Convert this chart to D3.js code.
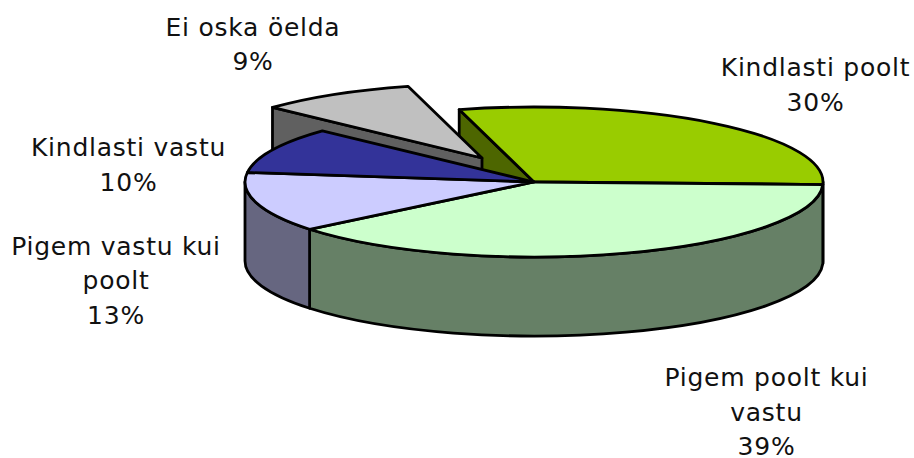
<!DOCTYPE html>
<html><head><meta charset="utf-8">
<script src="https://cdn.jsdelivr.net/npm/d3@7"></script>
<style>html,body{margin:0;padding:0;background:#fff}svg{display:block}</style>
</head><body><svg id="c" width="914" height="458"></svg>
<script>
const categories = ["Kindlasti poolt","Pigem poolt kui vastu","Pigem vastu kui poolt","Kindlasti vastu","Ei oska öelda"];
const values = [30,39,13,10,9];
const labelLines = [["Kindlasti poolt"],["Pigem poolt kui","vastu"],["Pigem vastu kui","poolt"],["Kindlasti vastu"],["Ei oska öelda"]];
const topColors = ["#99CC00","#CCFFCC","#CCCCFF","#333399","#C0C0C0"];
const wallColors = ["#4D6600","#668066","#666680","#1A1A4D","#606060"];

const labelCenters = [[815.5,76],[766.5,386],[116,254.5],[128.5,156],[253,35.5]];
const lineGap = 34.7;
const cx=534, cy=182, rx=289, ry=75, depth=79;
const explodedIndex = 4, offset=[-52,-24], explodedScale=0.99;
const svg = d3.select("#c");
const deg = Math.PI/180;

const arcs = d3.pie().sort(null).value(d=>d).startAngle(-15*deg).endAngle(345*deg)(values);
const sx = d3.scaleLinear().domain([-1,1]).range([cx-rx,cx+rx]);
const sy = d3.scaleLinear().domain([-1,1]).range([cy-ry,cy+ry]);
const rim = (a,o=[0,0],d=0,k=1)=>[cx+k*(sx(Math.sin(a))-cx)+o[0], cy+k*(sy(-Math.cos(a))-cy)+o[1]+d];
const apex = (o=[0,0],d=0)=>[cx+o[0],cy+o[1]+d];

function sector(a,o,k=1){
  const p=d3.path(), s=rim(a.startAngle,o,0,k), e=rim(a.endAngle,o,0,k), c=apex(o);
  p.moveTo(...c); p.lineTo(...s);
  return `${p}A${rx*k},${ry*k} 0 ${a.endAngle-a.startAngle>Math.PI?1:0} 1 ${e[0]},${e[1]}Z`;
}
function edgeWall(angle,o,k=1){
  const s=rim(angle,o,0,k), c=apex(o), c2=apex(o,depth), s2=rim(angle,o,depth,k);
  return d3.line()([s,c,c2,s2])+"Z";
}
function outerWall(a0,a1){
  const s=rim(a0), e=rim(a1), s2=rim(a0,[0,0],depth), e2=rim(a1,[0,0],depth);
  return `M${s}A${rx},${ry} 0 0 1 ${e}L${e2}A${rx},${ry} 0 0 0 ${s2}Z`;
}
const style = (sel,fill)=>sel.attr("fill",fill).attr("stroke","#000").attr("stroke-width",2.8).attr("stroke-linejoin","round");

const g = svg.append("g");
style(g.append("path").attr("d",edgeWall(arcs[0].startAngle,[0,0])), wallColors[0]);
style(g.append("path").attr("d",edgeWall(arcs[explodedIndex].startAngle,offset,explodedScale)), wallColors[explodedIndex]);
style(g.append("path").attr("d",sector(arcs[explodedIndex],offset,explodedScale)), topColors[explodedIndex]);
arcs.forEach((a,i)=>{
  if(i===explodedIndex) return;
  const a0=Math.max(a.startAngle,90*deg), a1=Math.min(a.endAngle,270*deg);
  if(a1>a0) style(g.append("path").attr("d",outerWall(a0,a1)), wallColors[i]);
});
arcs.forEach((a,i)=>{
  if(i===explodedIndex) return;
  style(g.append("path").attr("d",sector(a,[0,0])), topColors[i]);
});
categories.forEach((c,i)=>{
  const t=svg.append("text").attr("text-anchor","middle").attr("fill","#111")
    .attr("font-family","'DejaVu Sans',Verdana,sans-serif").attr("font-size",25).attr("letter-spacing",0.75);
  const lines=[...labelLines[i], values[i]+"%"];
  lines.forEach((l,k)=>t.append("tspan").attr("x",labelCenters[i][0]).attr("y",labelCenters[i][1]+k*lineGap).text(l));
});
</script></body></html>
